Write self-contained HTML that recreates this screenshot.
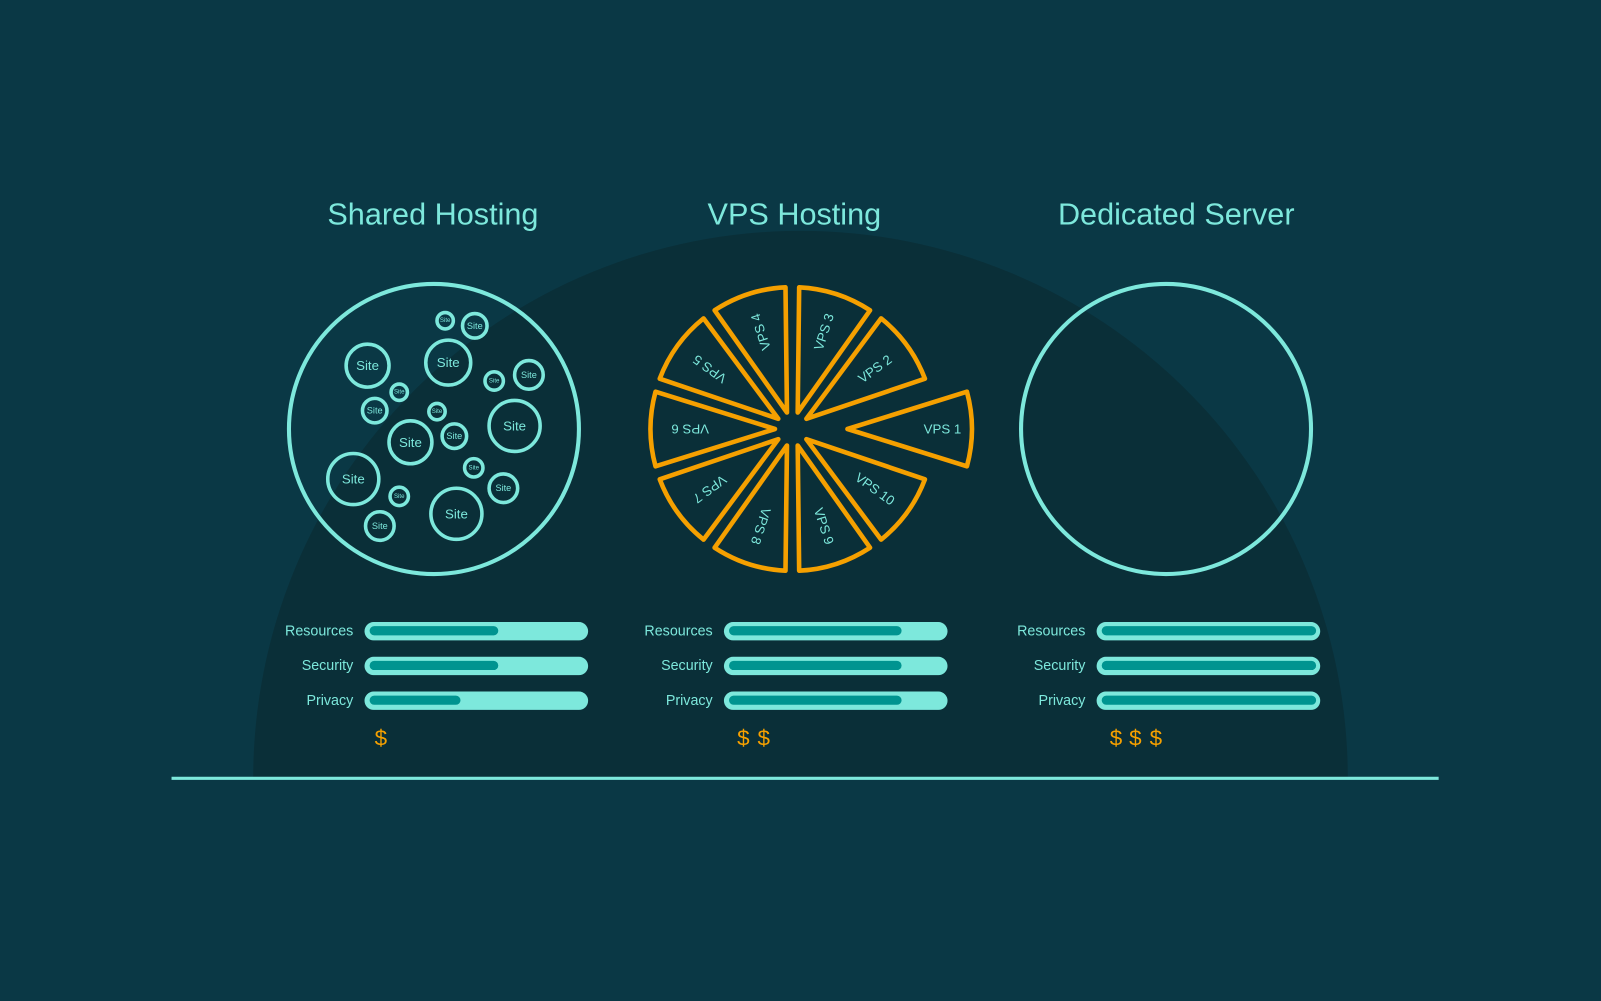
<!DOCTYPE html>
<html><head><meta charset="utf-8"><style>
html,body{margin:0;padding:0;background:#0a3845;}
svg{display:block;}
text{font-family:"Liberation Sans",sans-serif;}
</style></head><body>
<svg width="1601" height="1001" viewBox="0 0 1568 980" preserveAspectRatio="none" xmlns="http://www.w3.org/2000/svg">
<rect width="1568" height="980" fill="#0a3845"/>
<path d="M248 762 A536 536 0 0 1 1320 762 Z" fill="#0a2f38"/>
<line x1="168" y1="762" x2="1409" y2="762" stroke="#7de8dc" stroke-width="3"/>

<g fill="#7de8dc" font-size="30" text-anchor="middle">
<text x="424" y="220">Shared Hosting</text>
<text x="778" y="220">VPS Hosting</text>
<text x="1152" y="220">Dedicated Server</text>
</g>

<circle cx="425" cy="420" r="142" fill="none" stroke="#7de8dc" stroke-width="4"/>
<circle cx="1142" cy="420" r="142" fill="none" stroke="#7de8dc" stroke-width="4"/>

<g fill="none" stroke="#7de8dc" stroke-width="3.5">
<circle cx="360" cy="358" r="21"/><circle cx="439" cy="355" r="22"/><circle cx="436" cy="314" r="8"/>
<circle cx="465" cy="319" r="12"/><circle cx="518" cy="367" r="14"/><circle cx="484" cy="373" r="9"/>
<circle cx="391" cy="384" r="8"/><circle cx="367" cy="402" r="12"/><circle cx="428" cy="403" r="8"/>
<circle cx="504" cy="417" r="25"/><circle cx="402" cy="433" r="21"/><circle cx="445" cy="427" r="12"/>
<circle cx="346" cy="469" r="25"/><circle cx="464" cy="458" r="9"/><circle cx="493" cy="478" r="14"/>
<circle cx="391" cy="486" r="9"/><circle cx="372" cy="515" r="14"/><circle cx="447" cy="503" r="25"/>
</g>
<g fill="#7de8dc" text-anchor="middle" dominant-baseline="central">
<g font-size="13"><text x="360" y="358">Site</text><text x="439" y="355">Site</text><text x="504" y="417">Site</text><text x="402" y="433">Site</text><text x="346" y="469">Site</text><text x="447" y="503">Site</text></g>
<g font-size="9"><text x="465" y="319">Site</text><text x="518" y="367">Site</text><text x="367" y="402">Site</text><text x="445" y="427">Site</text><text x="493" y="478">Site</text><text x="372" y="515">Site</text></g>
<g font-size="6"><text x="436" y="314">Site</text><text x="484" y="373">Site</text><text x="391" y="384">Site</text><text x="428" y="403">Site</text><text x="464" y="458">Site</text><text x="391" y="486">Site</text></g>
</g>

<defs>
<path id="sl" d="M17,0 L134,-36.5 A139 139 0 0 1 134,36.5 Z" fill="none" stroke="#f5a000" stroke-width="4.5" stroke-linejoin="round"/>
</defs>
<g fill="#7de8dc" font-size="13" text-anchor="middle" dominant-baseline="central">
<g transform="translate(813 420)"><use href="#sl"/><text x="110" y="0">VPS 1</text></g>
<g transform="translate(776 420) rotate(-36)"><use href="#sl"/><text x="100" y="0">VPS 2</text></g>
<g transform="translate(776 420) rotate(-72)"><use href="#sl"/><text x="100" y="0">VPS 3</text></g>
<g transform="translate(776 420) rotate(-108)"><use href="#sl"/><text x="100" y="0">VPS 4</text></g>
<g transform="translate(776 420) rotate(-144)"><use href="#sl"/><text x="100" y="0">VPS 5</text></g>
<g transform="translate(776 420) rotate(180)"><use href="#sl"/><text x="100" y="0">VPS 6</text></g>
<g transform="translate(776 420) rotate(144)"><use href="#sl"/><text x="100" y="0">VPS 7</text></g>
<g transform="translate(776 420) rotate(108)"><use href="#sl"/><text x="100" y="0">VPS 8</text></g>
<g transform="translate(776 420) rotate(72)"><use href="#sl"/><text x="100" y="0">VPS 9</text></g>
<g transform="translate(776 420) rotate(36)"><use href="#sl"/><text x="100" y="0">VPS 10</text></g>
</g>

<g fill="#7de8dc" font-size="14" text-anchor="end">
<text x="346" y="622">Resources</text><text x="346" y="656">Security</text><text x="346" y="690">Privacy</text>
<text x="698" y="622">Resources</text><text x="698" y="656">Security</text><text x="698" y="690">Privacy</text>
<text x="1063" y="622">Resources</text><text x="1063" y="656">Security</text><text x="1063" y="690">Privacy</text>
</g>
<g fill="#7de8dc">
<rect x="357" y="609" width="219" height="18" rx="9"/><rect x="357" y="643" width="219" height="18" rx="9"/><rect x="357" y="677" width="219" height="18" rx="9"/>
<rect x="709" y="609" width="219" height="18" rx="9"/><rect x="709" y="643" width="219" height="18" rx="9"/><rect x="709" y="677" width="219" height="18" rx="9"/>
<rect x="1074" y="609" width="219" height="18" rx="9"/><rect x="1074" y="643" width="219" height="18" rx="9"/><rect x="1074" y="677" width="219" height="18" rx="9"/>
</g>
<g fill="#009490">
<rect x="362" y="613" width="126" height="9" rx="4.5"/><rect x="362" y="647" width="126" height="9" rx="4.5"/><rect x="362" y="681" width="89" height="9" rx="4.5"/>
<rect x="714" y="613" width="169" height="9" rx="4.5"/><rect x="714" y="647" width="169" height="9" rx="4.5"/><rect x="714" y="681" width="169" height="9" rx="4.5"/>
<rect x="1079" y="613" width="210" height="9" rx="4.5"/><rect x="1079" y="647" width="210" height="9" rx="4.5"/><rect x="1079" y="681" width="210" height="9" rx="4.5"/>
</g>
<g fill="#f5a000" font-size="22" text-anchor="middle">
<text x="373" y="730">$</text>
<text x="728" y="730">$</text><text x="748" y="730">$</text>
<text x="1093" y="730">$</text><text x="1112" y="730">$</text><text x="1132" y="730">$</text>
</g>
</svg>
</body></html>
